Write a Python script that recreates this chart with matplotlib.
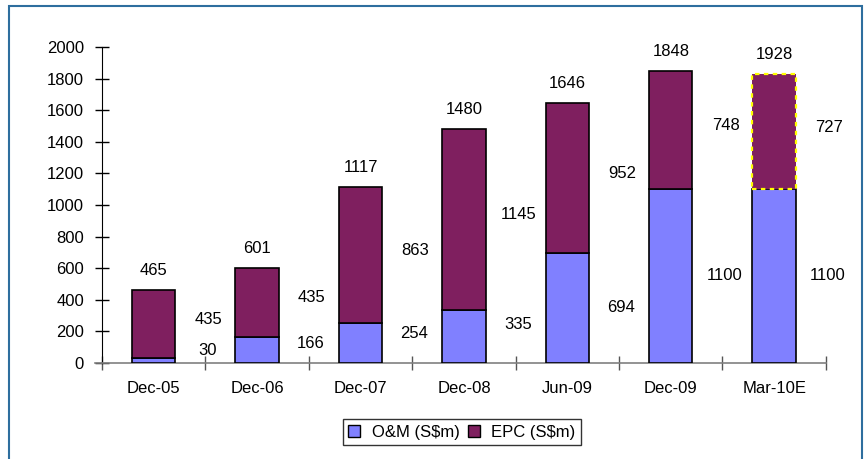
import matplotlib.pyplot as plt
from matplotlib.patches import Rectangle

plt.rcParams['font.family'] = ['Liberation Sans', 'DejaVu Sans']

periods = ['Dec-05', 'Dec-06', 'Dec-07', 'Dec-08', 'Jun-09', 'Dec-09', 'Mar-10E']
om = [30, 166, 254, 335, 694, 1100, 1100]
epc = [435, 435, 863, 1145, 952, 748, 727]
total_labels = [465, 601, 1117, 1480, 1646, 1848, 1928]
# where Excel dropped the O&M labels (data units)
om_label_y = [82, 126, 190, 247, 354, 557, 557]

om_color = '#8080FF'
epc_color = '#7F1F5F'

fig = plt.figure(figsize=(8.68, 4.59), dpi=100)
ax = fig.add_axes([0.1175, 0.209, 0.834, 0.6885])

x = list(range(len(periods)))
w = 0.42
ax.bar(x, om, width=w, color=om_color, edgecolor='black', linewidth=1.2,
       label='O&M (S$m)', zorder=3)
bars = ax.bar(x, epc, width=w, bottom=om, color=epc_color, edgecolor='black',
              linewidth=1.2, label='EPC (S$m)', zorder=3)
# estimate bar has a dotted yellow outline
bars[-1].set_edgecolor('#FFFF00')
bars[-1].set_linestyle((0, (2, 2)))
bars[-1].set_linewidth(1.6)

fs = 12
for i in x:
    top = om[i] + epc[i]
    ax.annotate(str(total_labels[i]), (i, top), xytext=(0, 14),
                textcoords='offset points', ha='center', va='center', fontsize=fs)
    ax.text(i + 0.53, om[i] + epc[i] / 2 + 30, str(epc[i]),
            ha='center', va='center', fontsize=fs)
    ax.text(i + 0.52, om_label_y[i], str(om[i]),
            ha='center', va='center', fontsize=fs)

ax.set_xlim(-0.5, len(periods) - 0.5)
ax.set_ylim(0, 2000)
ax.set_yticks(range(0, 2001, 200))
ax.set_xticks(x)
ax.set_xticklabels(periods)
ax.set_xticks([i + 0.5 for i in range(-1, len(periods))], minor=True)
ax.tick_params(axis='x', which='major', length=0, pad=13, labelsize=fs)
ax.tick_params(axis='x', which='minor', direction='inout', length=10,
               width=1, color='#555555')
ax.tick_params(axis='y', direction='inout', length=10, width=1,
               pad=8, labelsize=fs)

for s in ['top', 'right']:
    ax.spines[s].set_visible(False)
ax.spines['left'].set_color('black')
ax.spines['bottom'].set_color('#808080')
ax.spines['bottom'].set_linewidth(1.2)
ax.plot([-0.57, -0.5], [0, 0], color='#808080', lw=1.2, clip_on=False)

leg = fig.legend(loc='center', bbox_to_anchor=(462 / 868, 1 - 432 / 459),
                 ncol=2, fontsize=fs, frameon=True, fancybox=False,
                 edgecolor='black', handlelength=0.7, handleheight=0.7,
                 handletextpad=0.7, columnspacing=0.5, borderpad=0.35,
                 borderaxespad=0)
leg.get_frame().set_linewidth(1)
for h in leg.legend_handles:
    h.set_linewidth(1)
    h.set_edgecolor('black')

fig.patches.append(Rectangle((9 / 868, -0.05), (862 - 9) / 868, 1.05 - 6 / 459,
                             transform=fig.transFigure, fill=False,
                             edgecolor='#2E6E9E', linewidth=1.5))

fig.savefig('out.png', dpi=100)
